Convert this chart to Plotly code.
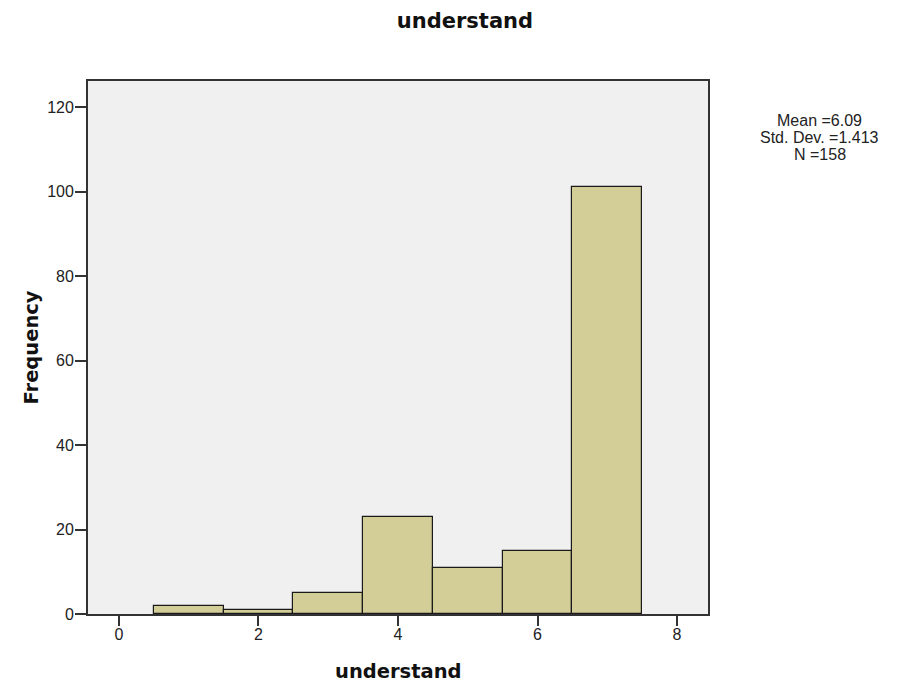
import plotly.graph_objects as go

values = [1, 2, 3, 4, 5, 6, 7]
counts = [2, 1, 5, 23, 11, 15, 101]
x_ticks = [0, 2, 4, 6, 8]
y_ticks = [0, 20, 40, 60, 80, 100, 120]
stats_lines = ["Mean =6.09", "Std. Dev. =1.413", "N =158"]

fig = go.Figure()
fig.add_trace(go.Bar(
    x=values, y=counts, width=1,
    marker=dict(color="#d3ce98", line=dict(color="#1a1a1a", width=1.2)),
    showlegend=False,
))

axis_common = dict(
    showgrid=False, zeroline=False, showline=True, linecolor="#333333",
    linewidth=1.8, mirror=True, ticks="outside", tickwidth=2,
    tickcolor="#333333",
    tickfont=dict(family="Arial, Liberation Sans", size=16, color="#222"),
)
bold_font = dict(family="DejaVu Sans, Verdana", size=19.5, color="#111")

fig.update_layout(
    width=889, height=676,
    margin=dict(l=80, r=189, t=73, b=70),
    paper_bgcolor="white", plot_bgcolor="#f0f0f0",
    title=dict(text="<b>understand</b>", x=0.514, xref="container", xanchor="center",
               y=0.982, yanchor="middle",
               font=dict(family="DejaVu Sans, Verdana", size=21, color="#111")),
    xaxis=dict(range=[-0.444, 8.444], tickvals=x_ticks, ticklen=10, ticklabelstandoff=-5,
               automargin=False, **axis_common),
    yaxis=dict(range=[0, 126.2], tickvals=y_ticks, ticklen=11, ticklabelstandoff=-2,
               automargin=True,
               title=dict(text="<b>Frequency</b>", font=bold_font, standoff=3),
               **axis_common),
    bargap=0,
)

fig.add_annotation(
    text="<b>understand</b>", xref="paper", yref="paper", x=0.5, y=0,
    xanchor="center", yanchor="middle", yshift=-57, showarrow=False,
    font=bold_font,
)

for i, line in enumerate(stats_lines):
    fig.add_annotation(
        text=line, xref="paper", yref="paper", x=1.18, y=0.925,
        xanchor="center", yanchor="middle", yshift=-17 * i, showarrow=False,
        font=dict(family="Arial, Liberation Sans", size=16, color="#222"),
    )

fig.write_html("out.html")
